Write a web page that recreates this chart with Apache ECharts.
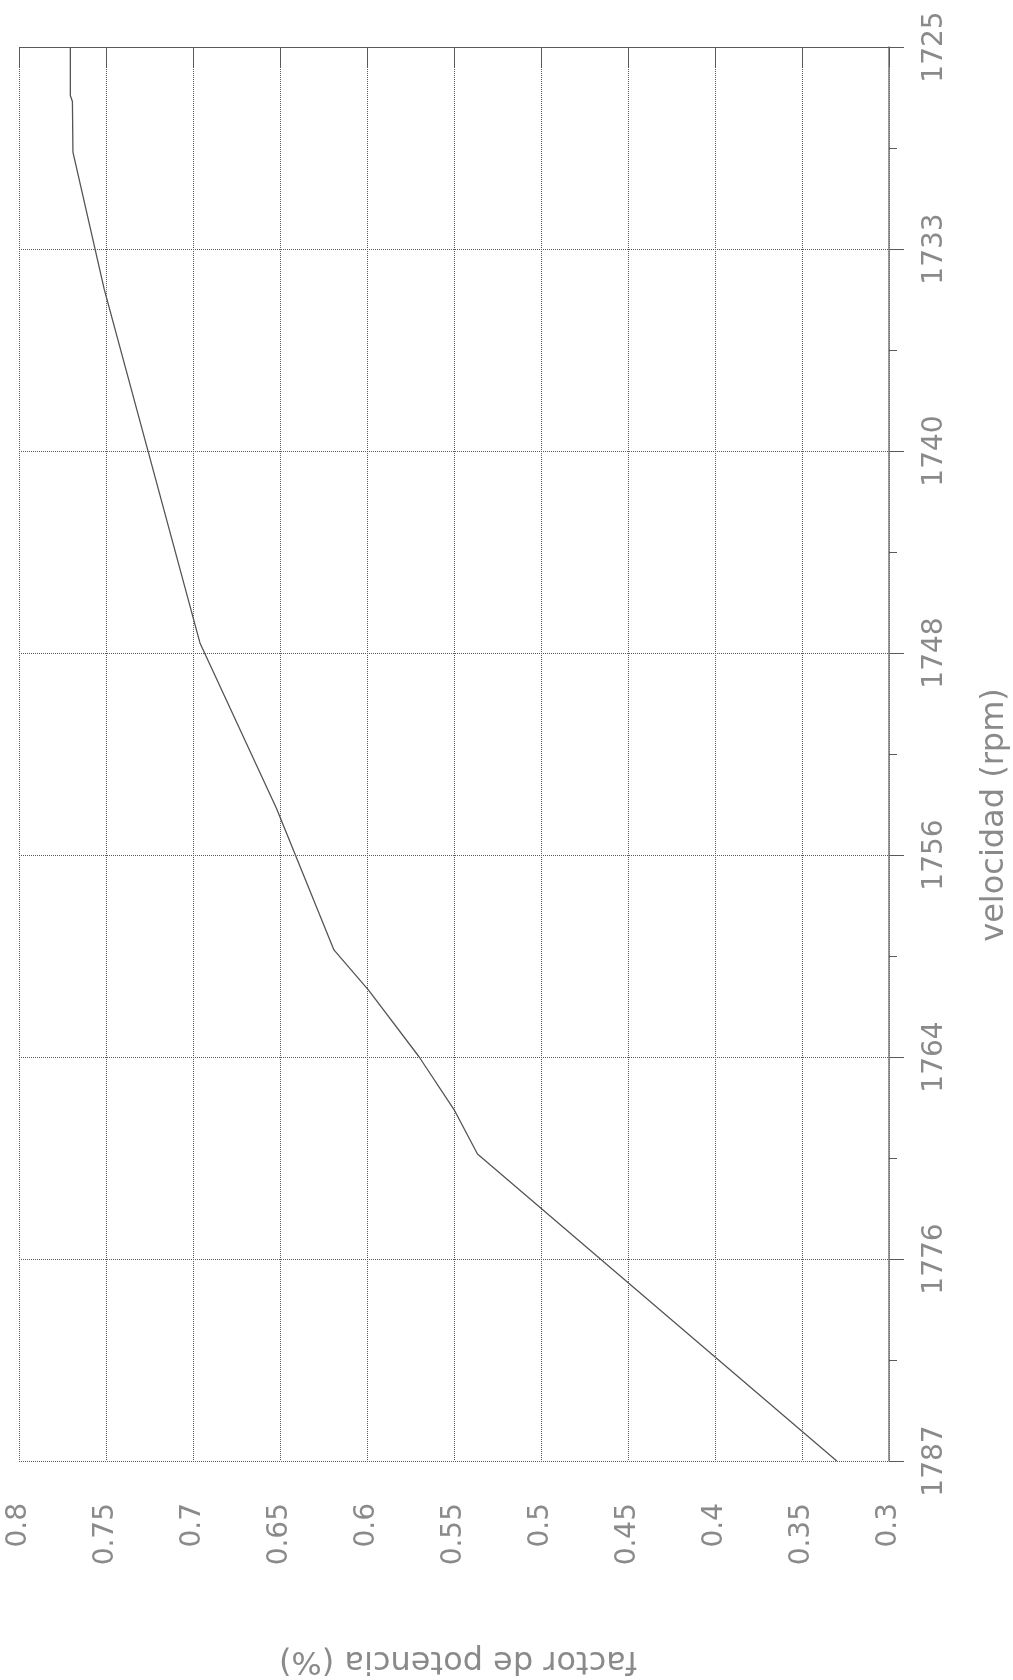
<!DOCTYPE html>
<html>
<head>
<meta charset="utf-8">
<script src="https://cdn.jsdelivr.net/npm/echarts@6/dist/echarts.min.js"></script>
<style>
  html, body { margin: 0; padding: 0; background: #fff; }
  #chart { width: 1013px; height: 1680px; }
</style>
</head>
<body>
<div id="chart"></div>
<script>
// Speed tick labels, top to bottom along the right-hand axis
const rpmTicks = ['1725', '1733', '1740', '1748', '1756', '1764', '1776', '1787'];

// Curve vertices: position along the speed axis (0 = 1725 tick, 7 = 1787 tick)
const speedPos = [0, 0.24, 0.27, 0.52, 1.2, 2.95, 3.77, 4.47, 4.67, 5.0, 5.26, 5.48, 7.0];
// Power factor at each vertex
const powerFactor = [0.7705, 0.7705, 0.7693, 0.769, 0.751, 0.696, 0.652, 0.619, 0.599, 0.570, 0.550, 0.5365, 0.330];

const labelFont = 'DejaVu Sans';
const inkLight = '#8a8a8a';
const gridInk = '#5a5a5a';

const curve = speedPos.map((p, i) => [powerFactor[i], p]);

const chart = echarts.init(document.getElementById('chart'), null, { renderer: 'canvas' });

chart.setOption({
  backgroundColor: '#ffffff',
  animation: false,
  grid: { left: 19, right: 124, top: 47, bottom: 219, containLabel: false },
  xAxis: {
    type: 'value',
    position: 'bottom',
    inverse: true,
    min: 0.3,
    max: 0.8,
    interval: 0.05,
    axisLine: { show: true, lineStyle: { color: gridInk, width: 1, type: 'dotted' } },
    axisTick: { show: true, length: 20, lineStyle: { color: gridInk, width: 1 } },
    splitLine: { show: true, lineStyle: { color: gridInk, width: 1, type: 'dotted' } },
    axisLabel: {
      rotate: 90,
      margin: 42,
      color: inkLight,
      fontFamily: labelFont,
      fontSize: 28,
      formatter: v => String(Number(v.toFixed(2)))
    }
  },
  yAxis: {
    type: 'value',
    position: 'right',
    inverse: true,
    min: 0,
    max: 7,
    interval: 1,
    axisLine: { show: true, lineStyle: { color: '#777', width: 1.5 } },
    axisTick: { show: true, length: 15, lineStyle: { color: gridInk, width: 1 } },
    minorTick: { show: true, splitNumber: 2, length: 8, lineStyle: { color: gridInk, width: 1 } },
    splitLine: { show: true, lineStyle: { color: gridInk, width: 1, type: 'dotted' } },
    axisLabel: {
      rotate: 90,
      margin: 32,
      color: inkLight,
      fontFamily: labelFont,
      fontSize: 28,
      formatter: v => rpmTicks[Math.round(v)] || ''
    }
  },
  graphic: [
    {
      type: 'text',
      x: 995,
      y: 815,
      rotation: Math.PI / 2,
      style: {
        text: 'velocidad (rpm)',
        fill: inkLight,
        font: '32px "DejaVu Sans"',
        align: 'center',
        verticalAlign: 'middle'
      }
    },
    {
      type: 'text',
      x: 458,
      y: 1660,
      rotation: Math.PI,
      style: {
        text: 'factor de potencia (%)',
        fill: inkLight,
        font: '32px "DejaVu Sans"',
        align: 'center',
        verticalAlign: 'middle'
      }
    }
  ],
  series: [
    {
      type: 'line',
      data: curve,
      showSymbol: false,
      symbol: 'none',
      lineStyle: { color: '#555', width: 1.3 },
      silent: true
    }
  ]
});
</script>
</body>
</html>
